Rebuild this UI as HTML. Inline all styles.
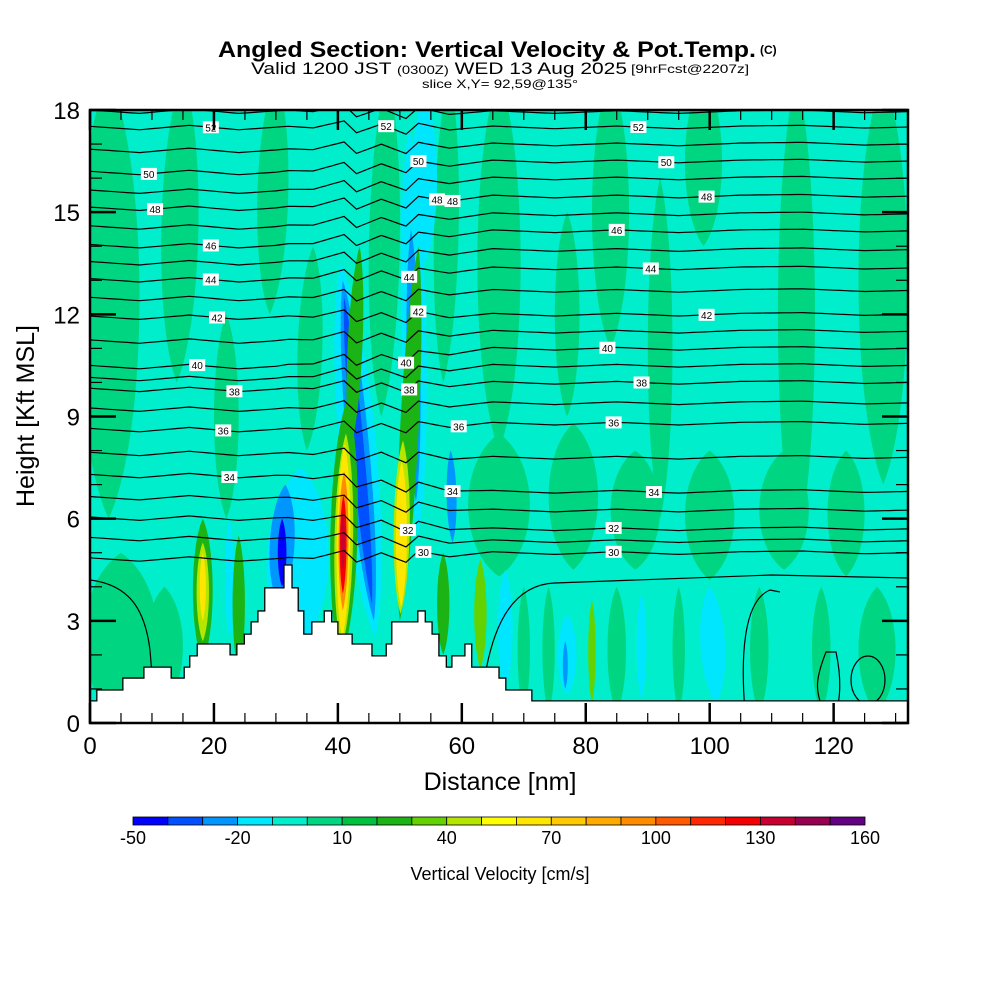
<!DOCTYPE html>
<html><head><meta charset="utf-8">
<style>
html,body{margin:0;padding:0;background:#fff;}
svg{display:block;font-family:"Liberation Sans",Arial,sans-serif;}
</style></head>
<body>
<svg id="chart" width="1000" height="1000" viewBox="0 0 1000 1000" xmlns="http://www.w3.org/2000/svg">
<rect width="1000" height="1000" fill="#fff"/>
<g>
<text x="218" y="57" font-size="22" font-weight="bold" textLength="538" lengthAdjust="spacingAndGlyphs">Angled Section: Vertical Velocity &amp; Pot.Temp.</text>
<text x="760" y="54" font-size="12" font-weight="bold">(C)</text>
<text x="251" y="74" font-size="17" textLength="376" lengthAdjust="spacingAndGlyphs">Valid 1200 JST <tspan font-size="12">(0300Z)</tspan> WED 13 Aug 2025</text>
<text x="631" y="73" font-size="12" textLength="118" lengthAdjust="spacingAndGlyphs">[9hrFcst@2207z]</text>
<text x="422" y="88" font-size="12" textLength="156" lengthAdjust="spacingAndGlyphs">slice X,Y= 92,59@135°</text>
</g>
<defs><clipPath id="plotclip"><rect x="90" y="110" width="818" height="613"/></clipPath></defs>
<g id="field" clip-path="url(#plotclip)"></g>
<g id="contours" clip-path="url(#plotclip)"></g>
<g id="terrain"></g>
<g id="clabels"></g>
<g id="axes"></g>
<g id="cbar"></g>
<text x="500" y="880" font-size="18" text-anchor="middle">Vertical Velocity [cm/s]</text>
<text x="500" y="790" font-size="25" text-anchor="middle">Distance [nm]</text>
<text transform="translate(34,416) rotate(-90)" font-size="25" text-anchor="middle">Height [Kft MSL]</text>
</svg>
<script>
// ---- data ----
const colorLevels = [-50,-40,-30,-20,-10,0,10,20,30,40,50,60,70,80,90,100,110,120,130,140,150,160];
const binColors = ["#0000ff","#0050ff","#0096ff","#00e6ff","#00eecc","#00d682","#00c040","#1cb414","#64d200","#b4e600","#ffff00","#ffe600","#ffc800","#ffaa00","#ff8c00","#ff5a00","#ff2800","#f50000","#c80032","#960050","#640082"];
const cbarTicks = [-50,-20,10,40,70,100,130,160];
const xTicks = [0,20,40,60,80,100,120];
const yTicks = [0,3,6,9,12,15,18];
// velocity features: xBottom(nm), xTop(nm), zBottom(kft), zTop(kft), halfWidth(nm), value(cm/s)
const featXb = [3,14,22,29,35,47,57,66,77,84,92,99,114,128,
  66,78,88,100,112,122,5,12,70,74,85,95,108,118,127,
  33,30.5,31,46,45.8,45.5,53,52.6,52.4,58.5,77,76.7,101,89,54,22.5,67,
  18.2,18.2,18.2,42,40.5,40.6,40.7,40.8,40.8,40.8,50,50.1,50.2,63,81,24,57];
const featXt = [3,15,22,30,36,48,58,66,77,84,92,99,114,128,
  66,78,88,100,112,122,5,12,70,74,85,95,108,118,127,
  34,31.5,31,40.5,40.8,41,51.5,51.8,52,58.2,77,76.7,100,89,54,22.5,67,
  18.2,18.2,18.2,43.5,41.5,41.3,41.1,41,40.9,40.8,53,50.5,50.3,63,81,24,57];
const featZb = [6,10,6,12,8,9,10,8,9,11,6,14,5,7,
  4.3,4.5,4.5,4.2,4.5,4.3,0,0.5,0.3,0.3,0.3,0.3,0.3,0.3,0.3,
  2,3.5,4,2.5,3,3.5,5.5,6.5,7,5.3,0.8,1,0.6,0.7,13.5,2.5,1,
  1.8,2.4,3,8,1.8,2.2,2.5,3.3,3.8,4.5,3,3.2,3.4,1.6,0.6,1.5,2];
const featZt = [19,19,12,19,14,19,19,19,15,19,16,19,19,19,
  8.5,8.8,8,8,8,8,5,4,4,4,4,4,4,4,4,
  7.5,7,6,13.5,13,12.5,17.5,14.5,11.5,8,3.2,2.4,4,3.8,18.5,6,4.5,
  6,5.3,5,14,9.5,8.5,8.2,7.4,6.7,6.2,14,8.3,7.7,4.8,3.6,5.5,5];
const featHw = [5,3,2,2.5,2,2.5,2,3.5,2,3,2,3,3,4,
  5,4,4,4,4,3,6,3,1,1,1.5,1,1.5,1.5,3,
  5,2,0.7,3,1.8,1,2,1.1,0.6,0.8,1.5,0.4,2,0.8,2,0.7,1.2,
  1.6,1,0.5,1.2,2.2,1.5,1.1,0.8,0.55,0.35,1.5,1.3,0.9,1,0.6,1,1];
const featVal = [5,5,5,5,5,5,5,5,5,5,5,5,5,5,
  5,5,5,5,5,5,5,5,5,5,5,5,5,5,5,
  -15,-25,-45,-15,-25,-35,-15,-25,-35,-30,-15,-25,-15,-15,-15,-15,-15,
  25,42,60,22,25,45,65,90,125,135,25,45,62,35,30,25,25];
// potential temperature contours
const thetaLevels = [30,31,32,33,34,35,36,37,38,39,40,41,42,43,44,45,46,47,48,49,50,51,52,53];
const thetaLeftZ = [4.8,5.4,6.0,6.6,7.25,7.9,8.6,9.2,9.78,10.1,10.45,11.2,11.9,12.45,13.0,13.5,14.0,14.55,15.1,15.6,16.15,16.8,17.47,17.95];
const thetaRightZ = [5.0,5.35,5.7,6.25,6.8,7.8,8.8,9.4,10.0,10.5,11.0,11.5,12.0,12.7,13.36,13.9,14.45,14.95,15.47,16.0,16.5,17.0,17.5,17.95];
const wiggleX = [0,8,16,24,32,36,41,43,47,51,53,58,65,75,85,95,105,115,125,132];
const wiggleZ = [0.05,-0.05,0.08,-0.05,0.05,0,0.2,-0.15,0.1,-0.2,0.12,-0.08,0.03,-0.05,0.03,-0.05,0.03,0.05,-0.03,0];
// contour labels: level, x(nm)
const labelLevel = [52,50,48,46,44,42,40,38,36,34,52,50,48,48,44,42,40,38,36,34,32,30,52,50,48,46,44,42,40,38,36,34,32,30];
const labelX = [19.5,9.5,10.5,19.5,19.5,20.5,17.3,23.3,21.5,22.5,47.8,53,56,58.5,51.5,53,51,51.5,59.5,58.5,51.3,53.8,88.5,93,99.5,85,90.5,99.5,83.5,89,84.5,91,84.5,84.5];
// terrain (step edges in nm, heights in kft)
const terrainX = [0,1.1,5.3,8.7,13.1,15.2,16.1,17.3,22.6,23.7,24.9,26.0,27.1,28.2,31.3,32.6,33.6,34.5,35.8,37.8,39.0,40.0,42.3,45.5,47.8,48.7,52.9,54.1,55.2,56.3,57.5,58.4,60.5,61.6,66.0,67.1,71.3,132];
const terrainH = [0.65,0.97,1.32,1.64,1.32,1.64,1.97,2.32,2.00,2.32,2.61,2.97,3.29,3.97,4.64,3.97,3.29,2.61,2.97,3.29,2.97,2.61,2.32,1.97,2.32,2.97,3.29,2.97,2.61,1.97,1.64,1.97,2.32,1.64,1.32,0.97,0.65,0.32];

// ---- scales ----
const X0=90, X1=908, Y0=723, Y1=110, XMAX=132, ZMAX=18;
const xs = v => X0 + v*(X1-X0)/XMAX;
const ys = v => Y0 - v*(Y0-Y1)/ZMAX;
const NS="http://www.w3.org/2000/svg";
function mk(tag, attrs, parent){const e=document.createElementNS(NS,tag);for(const k in attrs)e.setAttribute(k,attrs[k]);parent.appendChild(e);return e;}
function colorFor(v){let i=Math.floor((v-colorLevels[0])/10);i=Math.max(0,Math.min(binColors.length-1,i));return binColors[i];}

// ---- field ----
const field=document.getElementById('field');
const bg=mk('rect',{x:90,y:110,width:818,height:613,fill:colorFor(-5)},field);


for(let i=0;i<featVal.length;i++){
  const bx=xs(featXb[i]), by=ys(featZb[i]), tx=xs(featXt[i]), ty=ys(featZt[i]);
  const w=featHw[i]*(X1-X0)/XMAX*1.33;
  const c1y=by+(ty-by)*0.2, c2y=by+(ty-by)*0.8;
  const c1x=bx+(tx-bx)*0.2, c2x=bx+(tx-bx)*0.8;
  const d=`M${bx},${by} C${c1x+w},${c1y} ${c2x+w},${c2y} ${tx},${ty} C${c2x-w},${c2y} ${c1x-w},${c1y} ${bx},${by}Z`;
  const p=mk('path',{d:d,fill:colorFor(featVal[i])},field);
  
  
}

// ---- contours ----
function wiggle(x){for(let k=0;k<wiggleX.length-1;k++){if(x>=wiggleX[k]&&x<=wiggleX[k+1]){const t=(x-wiggleX[k])/(wiggleX[k+1]-wiggleX[k]);return wiggleZ[k]+(wiggleZ[k+1]-wiggleZ[k])*t;}}return 0;}
function thetaZ(li,x){let t=(x-30)/35;t=Math.max(0,Math.min(1,t));return thetaLeftZ[li]*(1-t)+thetaRightZ[li]*t+wiggle(x);}
const cg=document.getElementById('contours');
for(let li=0;li<thetaLevels.length;li++){
  let pts=[];
  for(let x=0;x<=XMAX;x+=1){pts.push(xs(x).toFixed(1)+','+ys(thetaZ(li,x)).toFixed(1));}
  const l=mk('polyline',{points:pts.join(' '),fill:'none',stroke:'#000','stroke-width':1.2},cg);
  
  
}
const low=mk('path',{d:`M${xs(63)},712 C${xs(64)},640 ${xs(67)},585 ${xs(75)},583 L${xs(110)},575 L908,578`,fill:'none',stroke:'#000','stroke-width':1.2},cg);


const low2=mk('path',{d:`M745,712 C740,650 745,600 770,590 L780,592`,fill:'none',stroke:'#000','stroke-width':1.2},cg);


const e1=mk('path',{d:'M824,712 C815,690 815,680 826,652 L836,652 C842,680 840,700 836,712',fill:'none',stroke:'#000','stroke-width':1.2},cg);


const e2=mk('ellipse',{cx:868,cy:680,rx:17,ry:24,fill:'none',stroke:'#000','stroke-width':1.2},cg);


const e3=mk('path',{d:'M90,580 C130,585 145,610 150,650 L155,712',fill:'none',stroke:'#000','stroke-width':1.2},cg);



// ---- terrain ----
const tg=document.getElementById('terrain');
let d=`M${xs(terrainX[0])},${Y0}`;
for(let i=0;i<terrainH.length;i++){
  const xa=xs(terrainX[i]), xb=(i+1<terrainX.length)?xs(terrainX[i+1]):X1;
  d+=` L${xa},${ys(terrainH[i])} L${xb},${ys(terrainH[i])}`;
}
d+=` L${X1},${Y0}Z`;
const tp=mk('path',{d:d,fill:'#fff',stroke:'#000','stroke-width':1.3},tg);



// ---- contour labels ----
const lg=document.getElementById('clabels');
for(let i=0;i<labelLevel.length;i++){
  const li=thetaLevels.indexOf(labelLevel[i]);
  const x=xs(labelX[i]), y=ys(thetaZ(li,labelX[i]));
  const g=mk('g',{},lg);
  
  
  mk('rect',{x:x-8,y:y-6,width:16,height:12,fill:'#fff'},g);
  const t=mk('text',{x:x,y:y+4,'font-size':10,'text-anchor':'middle'},g);
  t.textContent=labelLevel[i];
}

// ---- axes ----
const ag=document.getElementById('axes');
const frame=mk('rect',{x:90,y:110,width:818,height:613,fill:'none',stroke:'#000','stroke-width':2.5},ag);


for(let v=0;v<=XMAX;v+=5){
  const major=v%20===0, L=major?20:10, x=xs(v);
  mk('line',{x1:x,y1:Y0,x2:x,y2:Y0-L,stroke:'#000','stroke-width':major?2.5:1.2},ag);
  mk('line',{x1:x,y1:Y1,x2:x,y2:Y1+L,stroke:'#000','stroke-width':major?2.5:1.2},ag);
}
for(let v=0;v<=ZMAX;v+=1){
  const major=v%3===0, L=major?26:12, y=ys(v);
  mk('line',{x1:X0,y1:y,x2:X0+L,y2:y,stroke:'#000','stroke-width':major?2.5:1.2},ag);
  mk('line',{x1:X1,y1:y,x2:X1-L,y2:y,stroke:'#000','stroke-width':major?2.5:1.2},ag);
}
xTicks.forEach(v=>{const t=mk('text',{x:xs(v),y:754,'font-size':24,'text-anchor':'middle'},ag);
  
  
  t.textContent=v;});
yTicks.forEach(v=>{const t=mk('text',{x:80,y:ys(v)+9,'font-size':24,'text-anchor':'end'},ag);
  
  
  t.textContent=v;});

// ---- colorbar ----
const cb=document.getElementById('cbar');
const CB0=133, CB1=865, cbw=(CB1-CB0)/binColors.length;
binColors.forEach((c,i)=>{const r=mk('rect',{x:CB0+i*cbw,y:817,width:cbw,height:8,fill:c,stroke:'#000','stroke-width':0.8},cb);
  
  });
cbarTicks.forEach(v=>{const t=mk('text',{x:CB0+(v-colorLevels[0])/10*cbw,y:844,'font-size':18,'text-anchor':'middle'},cb);
  
  
  t.textContent=v;});
</script>
</body></html>
